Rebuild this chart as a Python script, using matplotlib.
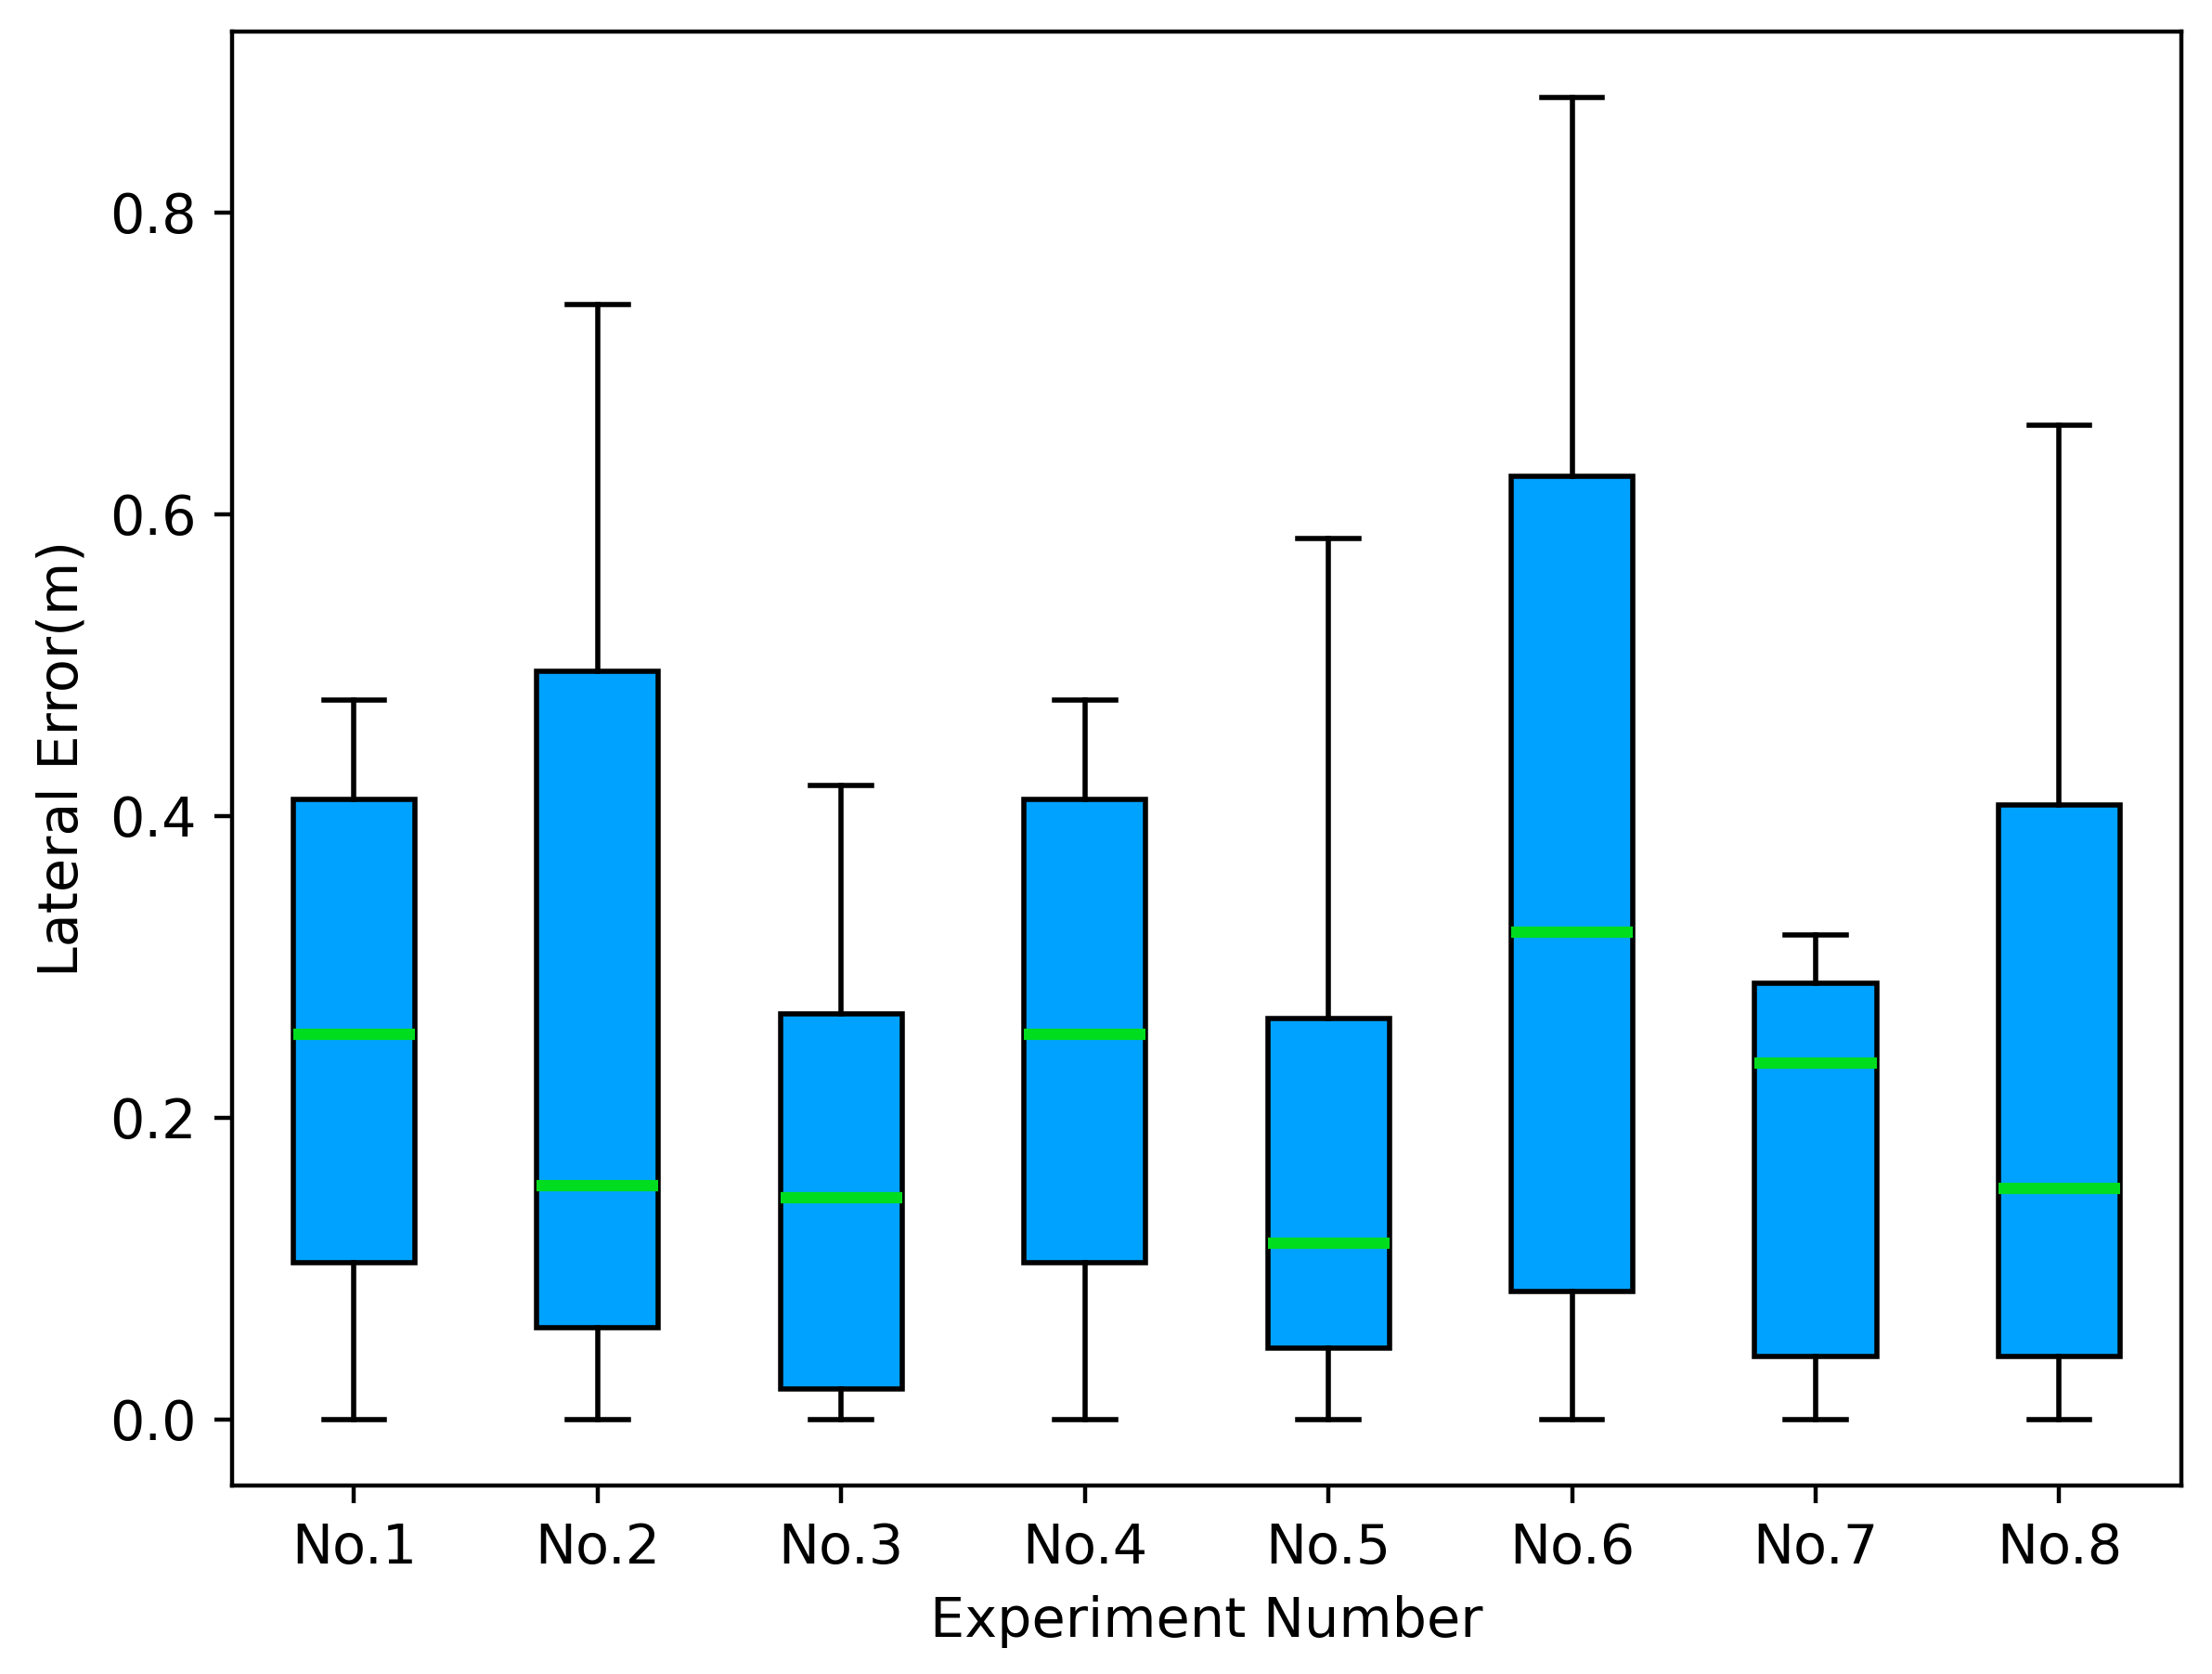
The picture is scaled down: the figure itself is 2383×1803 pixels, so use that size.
import matplotlib
matplotlib.use("Agg")
import matplotlib.pyplot as plt

labels = ["No.1", "No.2", "No.3", "No.4", "No.5", "No.6", "No.7", "No.8"]
whislo = [0.0, 0.0, 0.0, 0.0, 0.0, 0.0, 0.0, 0.0]
q1 = [0.104, 0.061, 0.020, 0.104, 0.047, 0.085, 0.042, 0.042]
med = [0.255, 0.155, 0.147, 0.255, 0.117, 0.323, 0.236, 0.153]
q3 = [0.411, 0.496, 0.269, 0.411, 0.266, 0.625, 0.289, 0.407]
whishi = [0.477, 0.739, 0.420, 0.477, 0.584, 0.876, 0.321, 0.659]

plt.rcParams["font.size"] = 10.6

stats = []
for i in range(len(labels)):
    stats.append(
        {
            "label": labels[i],
            "whislo": whislo[i],
            "q1": q1[i],
            "med": med[i],
            "q3": q3[i],
            "whishi": whishi[i],
            "fliers": [],
        }
    )

fig = plt.figure(figsize=(2383 / 400, 1803 / 400), dpi=400)
ax = fig.add_axes([0.105, 0.1126, 0.881, 0.8684])

ax.bxp(
    stats,
    widths=0.5,
    patch_artist=True,
    showfliers=False,
    boxprops=dict(facecolor="#00a2ff", edgecolor="black", linewidth=1.0),
    medianprops=dict(color="#00dc1e", linewidth=2.2),
    whiskerprops=dict(color="black", linewidth=1.0),
    capprops=dict(color="black", linewidth=1.0),
)

ax.set_yticks([0.0, 0.2, 0.4, 0.6, 0.8])
ax.set_xlabel("Experiment Number")
ax.set_ylabel("Lateral Error(m)")

plt.savefig("out.png", dpi=400)
